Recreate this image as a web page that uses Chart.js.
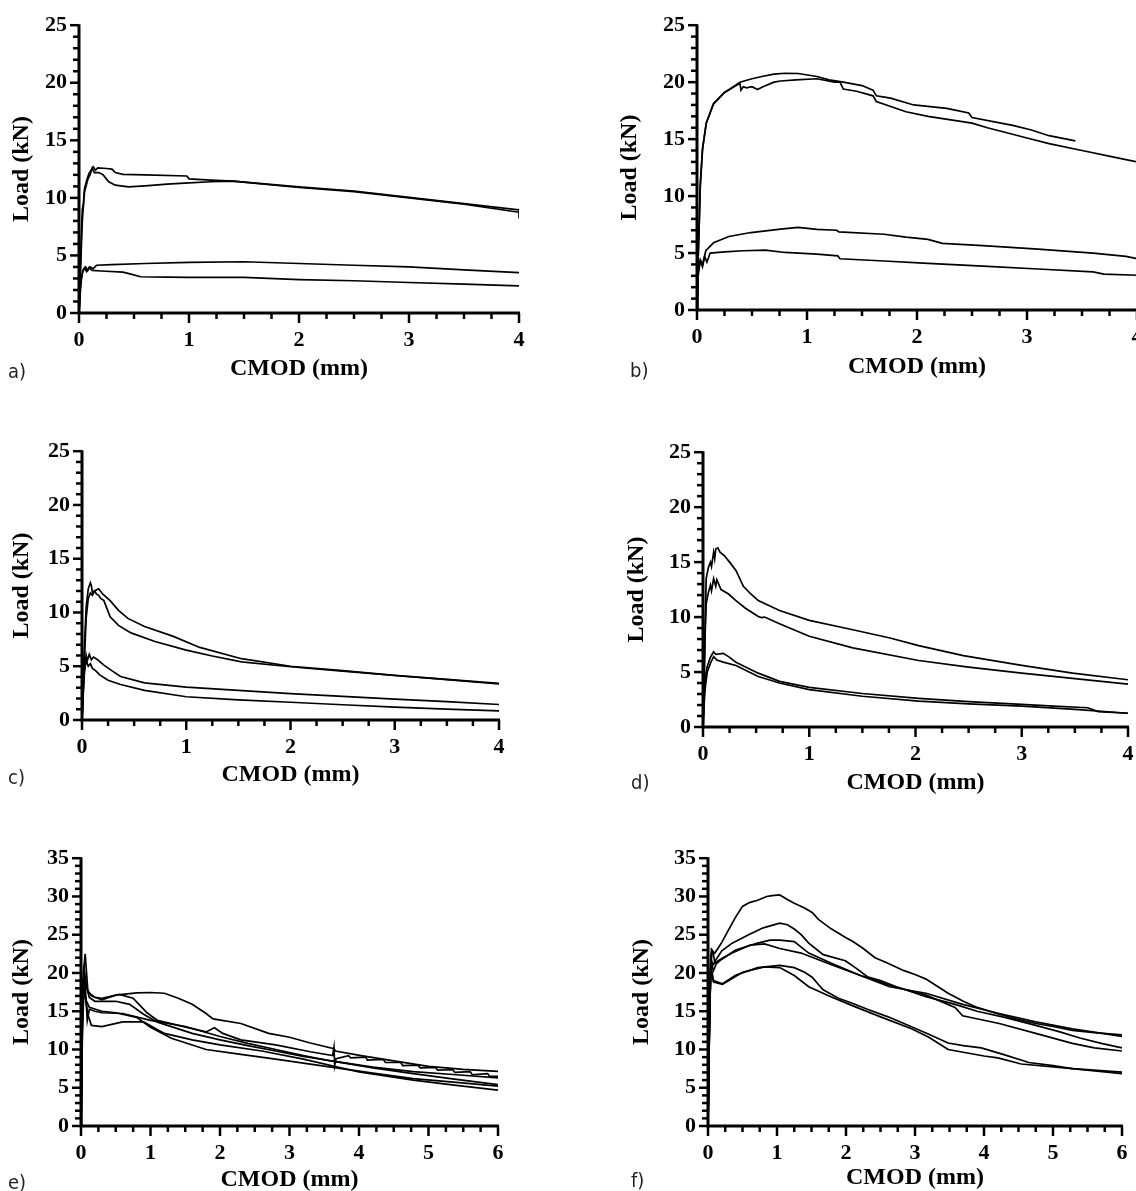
<!DOCTYPE html>
<html>
<head>
<meta charset="utf-8">
<title>Load vs CMOD</title>
<script src="https://cdn.jsdelivr.net/npm/chart.js@4.4.1/dist/chart.umd.min.js"></script>
<style>
  html, body { margin: 0; padding: 0; background: #fff; }
  body { position: relative; width: 1136px; height: 1191px; overflow: hidden; }
  canvas { position: absolute; }
  .tag { position: absolute; font-family: "Liberation Sans Narrow", "DejaVu Sans Condensed", sans-serif; font-size: 20px; color: #231f20; line-height: 22px; }
</style>
</head>
<body>
<script>
// ---- data: [CMOD (mm), Load (kN)] ----
const xTicks4 = [0, 1, 2, 3, 4];
const xTicks6 = [0, 1, 2, 3, 4, 5, 6];
const yTicks25 = [0, 5, 10, 15, 20, 25];
const yTicks35 = [0, 5, 10, 15, 20, 25, 30, 35];

const curveA1 = [[0,0],[0.01,3],[0.02,6.5],[0.03,9.0],[0.04,9.5],[0.05,10.8],[0.07,11.5],[0.09,12.1],[0.11,12.4],[0.13,12.7],[0.15,12.4],[0.17,12.6],[0.25,12.55],[0.3,12.5],[0.33,12.2],[0.4,12.05],[0.6,12.0],[0.98,11.9],[1.0,11.65],[1.2,11.55],[1.4,11.45],[2.0,10.95],[2.5,10.6],[3.0,10.05],[3.5,9.5],[4.0,8.95],[4.0,8.2]];
const curveA2 = [[0,0],[0.015,4],[0.03,8],[0.05,10.5],[0.08,11.6],[0.1,12.0],[0.12,12.6],[0.14,12.2],[0.18,12.2],[0.22,12.0],[0.27,11.4],[0.33,11.1],[0.45,10.95],[0.6,11.05],[0.8,11.2],[1.0,11.3],[1.2,11.4],[1.4,11.45],[2.0,10.9],[2.5,10.55],[3.0,10.0],[3.5,9.45],[4.0,8.75]];
const curveA3 = [[0,0],[0.01,1.5],[0.02,3.0],[0.04,3.8],[0.06,4.0],[0.08,3.7],[0.1,4.0],[0.13,3.85],[0.16,4.15],[0.3,4.2],[0.6,4.3],[1.0,4.4],[1.5,4.45],[2.0,4.3],[2.5,4.15],[3.0,4.0],[3.5,3.75],[4.0,3.5]];
const curveA4 = [[0,0],[0.01,2],[0.03,3.5],[0.05,3.9],[0.07,3.6],[0.09,3.95],[0.12,3.7],[0.2,3.65],[0.4,3.55],[0.48,3.35],[0.56,3.15],[0.8,3.12],[1.0,3.1],[1.5,3.1],[2.0,2.9],[2.5,2.8],[3.0,2.65],[3.5,2.5],[4.0,2.35]];

const curveB1 = [[0,0],[0.005,3],[0.017,6.5],[0.03,11],[0.05,14.1],[0.084,16.4],[0.15,18.1],[0.25,19.1],[0.3,19.4],[0.39,20.0],[0.5,20.3],[0.59,20.5],[0.7,20.7],[0.8,20.78],[0.92,20.76],[1.09,20.5],[1.2,20.2],[1.33,20.0],[1.5,19.7],[1.6,19.3],[1.63,18.8],[1.76,18.6],[1.97,18.0],[2.27,17.7],[2.47,17.3],[2.5,16.9],[2.87,16.2],[3.04,15.8],[3.2,15.3],[3.44,14.85]];
const curveB2 = [[0,0],[0.005,3],[0.017,6.5],[0.03,11],[0.05,14.1],[0.084,16.4],[0.15,18.1],[0.25,19.1],[0.39,19.9],[0.4,19.3],[0.42,19.6],[0.45,19.5],[0.5,19.6],[0.55,19.35],[0.6,19.6],[0.7,20.0],[0.76,20.1],[0.9,20.2],[1.09,20.3],[1.25,20.0],[1.3,20.0],[1.33,19.4],[1.45,19.2],[1.6,18.8],[1.63,18.3],[1.9,17.4],[2.1,17.0],[2.5,16.4],[2.64,16.0],[3.0,15.1],[3.2,14.6],[3.5,14.0],[3.8,13.4],[4.0,13.0]];
const curveB3 = [[0,0],[0.01,3.5],[0.03,4.4],[0.05,4.0],[0.08,5.2],[0.15,5.9],[0.29,6.45],[0.49,6.8],[0.76,7.1],[0.92,7.25],[1.09,7.08],[1.27,7.0],[1.29,6.85],[1.7,6.65],[1.9,6.4],[2.1,6.2],[2.23,5.85],[2.6,5.65],[3.1,5.35],[3.6,5.0],[3.9,4.7],[4.0,4.5]];
const curveB4 = [[0,0],[0.01,3.0],[0.03,4.3],[0.05,3.8],[0.07,4.7],[0.09,4.2],[0.12,5.0],[0.25,5.1],[0.42,5.2],[0.62,5.26],[0.8,5.05],[1.09,4.9],[1.28,4.75],[1.3,4.5],[1.7,4.3],[2.1,4.1],[2.6,3.85],[3.1,3.6],[3.6,3.35],[3.7,3.15],[4.0,3.05]];

const curveC1 = [[0,0],[0.02,6],[0.04,10.5],[0.06,12.2],[0.08,12.76],[0.09,12.5],[0.1,11.8],[0.12,12.0],[0.14,11.7],[0.16,11.6],[0.18,11.3],[0.21,11.1],[0.27,9.6],[0.35,8.8],[0.47,8.1],[0.7,7.3],[1.0,6.5],[1.25,5.95],[1.53,5.4],[2.0,4.95],[2.5,4.55],[3.0,4.14],[3.5,3.75],[4.0,3.35]];
const curveC2 = [[0,0],[0.02,5],[0.04,9.5],[0.06,11.3],[0.08,11.8],[0.1,11.6],[0.12,12.0],[0.16,12.2],[0.2,11.7],[0.27,11.1],[0.35,10.2],[0.44,9.45],[0.6,8.7],[0.87,7.8],[1.13,6.75],[1.53,5.7],[2.0,5.0],[2.5,4.6],[3.0,4.15],[3.5,3.78],[4.0,3.4]];
const curveC3 = [[0,0],[0.02,4],[0.04,6.0],[0.05,5.5],[0.07,6.1],[0.09,5.6],[0.11,5.85],[0.15,5.6],[0.21,5.1],[0.3,4.5],[0.37,4.05],[0.6,3.45],[1.0,3.06],[1.5,2.75],[2.0,2.46],[2.5,2.2],[3.0,1.95],[3.5,1.7],[4.0,1.44]];
const curveC4 = [[0,0],[0.02,4.5],[0.04,5.5],[0.06,5.0],[0.08,5.25],[0.1,4.8],[0.13,4.6],[0.17,4.2],[0.25,3.7],[0.37,3.3],[0.6,2.76],[1.0,2.16],[1.5,1.88],[2.0,1.65],[2.5,1.42],[3.0,1.2],[3.5,1.02],[4.0,0.84]];

const curveD1 = [[0,0],[0.01,4],[0.02,9],[0.03,13.5],[0.05,14.5],[0.07,15.0],[0.08,14.6],[0.1,15.9],[0.11,15.3],[0.12,16.2],[0.14,16.3],[0.16,15.9],[0.2,15.6],[0.25,15.0],[0.31,14.25],[0.38,12.8],[0.45,12.1],[0.52,11.5],[0.72,10.6],[1.0,9.7],[1.41,8.85],[1.76,8.1],[2.03,7.4],[2.45,6.5],[3.0,5.6],[3.48,4.9],[4.0,4.3]];
const curveD2 = [[0,0],[0.01,4],[0.02,8.5],[0.03,11.2],[0.05,12.2],[0.07,12.9],[0.08,12.4],[0.1,13.5],[0.12,12.8],[0.13,13.4],[0.17,12.5],[0.24,12.1],[0.31,11.5],[0.4,10.8],[0.52,10.05],[0.55,9.95],[0.58,10.0],[0.72,9.4],[1.0,8.25],[1.41,7.2],[2.03,6.05],[2.5,5.45],[3.0,4.9],[3.5,4.4],[4.0,3.9]];
const curveD3 = [[0,0],[0.01,2.5],[0.02,4.45],[0.04,5.5],[0.07,6.35],[0.1,6.85],[0.12,6.6],[0.19,6.7],[0.24,6.4],[0.31,5.9],[0.52,4.9],[0.72,4.15],[1.0,3.6],[1.5,3.05],[2.03,2.6],[2.5,2.3],[3.0,2.05],[3.3,1.9],[3.62,1.75],[3.72,1.4],[4.0,1.25]];
const curveD4 = [[0,0],[0.01,2],[0.02,3.5],[0.04,5.0],[0.07,5.8],[0.1,6.4],[0.13,6.1],[0.19,5.9],[0.31,5.6],[0.52,4.6],[0.72,4.0],[1.0,3.4],[1.5,2.8],[2.03,2.35],[2.5,2.1],[3.0,1.9],[3.5,1.6],[4.0,1.25]];

const curveE1 = [[0,0],[0.01,8],[0.02,17],[0.03,19.0],[0.05,20.0],[0.08,18.0],[0.15,17.0],[0.3,16.5],[0.5,17.1],[0.8,17.4],[1.0,17.45],[1.2,17.35],[1.4,16.7],[1.6,15.9],[1.8,14.7],[1.9,14.0],[2.3,13.4],[2.7,12.1],[3.0,11.6],[3.3,10.85],[3.64,10.1],[3.66,9.8],[4.03,9.2],[4.5,8.5],[5.0,7.8],[5.5,7.4],[6.0,7.15]];
const curveE2 = [[0,0],[0.02,15],[0.04,20.5],[0.06,22.5],[0.08,20.0],[0.1,17.5],[0.2,16.8],[0.3,16.7],[0.55,17.2],[0.75,16.7],[0.95,14.8],[1.1,13.8],[1.4,13.15],[1.8,12.3],[1.92,12.85],[2.04,12.1],[2.3,11.26],[2.8,10.6],[3.3,9.7],[3.62,9.2],[3.64,10.3],[3.65,7.9],[3.67,8.8],[3.85,9.2],[3.88,8.9],[4.1,9.0],[4.12,8.6],[4.35,8.7],[4.38,8.3],[4.6,8.3],[4.63,7.9],[4.85,7.95],[4.88,7.6],[5.1,7.65],[5.13,7.3],[5.35,7.35],[5.38,7.0],[5.6,7.1],[5.63,6.7],[5.85,6.85],[5.88,6.5],[6.0,6.5]];
const curveE3 = [[0,0],[0.02,12],[0.04,17.6],[0.06,18.5],[0.09,13.8],[0.12,15.25],[0.2,15.0],[0.3,14.8],[0.6,14.7],[1.0,13.8],[1.5,13.0],[2.0,11.7],[2.4,10.8],[2.8,10.0],[3.2,9.2],[3.6,8.5],[4.2,7.6],[4.78,6.85],[5.4,6.1],[6.0,5.4]];
const curveE4 = [[0,0],[0.02,14],[0.04,19.5],[0.06,17.0],[0.1,14.5],[0.15,13.15],[0.3,13.0],[0.6,13.6],[0.9,13.6],[1.2,12.1],[1.6,11.26],[2.0,10.6],[2.6,9.8],[3.2,8.74],[4.0,7.06],[4.78,6.0],[5.4,5.3],[6.0,4.7]];
const curveE5 = [[0,0],[0.02,16],[0.04,21.0],[0.07,18.5],[0.12,16.8],[0.2,16.3],[0.5,16.3],[0.7,15.9],[0.9,14.6],[1.1,13.57],[1.6,12.1],[2.0,11.26],[2.4,10.5],[2.8,9.8],[3.2,9.1],[3.6,8.5],[4.2,7.7],[4.78,7.1],[5.4,6.7],[6.0,6.3]];
const curveE6 = [[0,0],[0.02,13],[0.04,18.0],[0.07,16.5],[0.12,15.5],[0.3,15.0],[0.5,14.8],[0.8,14.2],[1.0,12.9],[1.3,11.47],[1.8,10.0],[2.3,9.37],[2.8,8.74],[3.6,7.7],[4.2,6.9],[4.78,6.2],[5.4,5.7],[6.0,5.2]];

const curveF1 = [[0,0],[0.02,12],[0.04,21],[0.06,22.8],[0.1,22.6],[0.2,24.0],[0.29,25.5],[0.4,27.3],[0.5,28.7],[0.6,29.2],[0.72,29.5],[0.85,30.0],[0.93,30.1],[1.04,30.2],[1.15,29.6],[1.25,29.1],[1.4,28.5],[1.51,27.9],[1.6,27.0],[1.78,25.8],[2.0,24.6],[2.1,24.1],[2.25,23.2],[2.42,22.0],[2.6,21.3],[2.84,20.3],[3.0,19.8],[3.16,19.2],[3.3,18.4],[3.48,17.35],[3.7,16.3],[3.9,15.5],[4.22,14.6],[4.5,13.9],[4.75,13.4],[5.0,13.0],[5.28,12.5],[5.6,12.2],[6.0,11.9]];
const curveF2 = [[0,0],[0.02,13],[0.04,22.0],[0.07,21.0],[0.12,21.8],[0.2,22.9],[0.35,23.9],[0.61,25.1],[0.8,25.9],[1.04,26.5],[1.15,26.3],[1.25,25.75],[1.35,25.0],[1.46,23.9],[1.67,22.4],[1.99,21.6],[2.15,20.6],[2.31,19.5],[2.5,19.0],[2.73,18.2],[3.16,16.9],[3.58,15.9],[3.9,15.0],[4.3,14.2],[4.75,13.15],[5.1,12.3],[5.39,11.5],[5.7,10.8],[6.0,10.2]];
const curveF3 = [[0,0],[0.02,12],[0.04,21.5],[0.08,20.3],[0.12,21.2],[0.2,21.8],[0.4,23.0],[0.72,23.9],[0.9,24.3],[1.04,24.3],[1.25,24.1],[1.46,22.6],[1.78,21.3],[2.2,19.7],[2.63,18.4],[3.16,17.1],[3.58,15.5],[3.69,14.4],[4.22,13.4],[4.75,12.1],[5.28,10.8],[5.6,10.2],[6.0,9.8]];
const curveF4 = [[0,0],[0.02,14],[0.05,23.1],[0.07,22.9],[0.1,21.3],[0.2,21.9],[0.35,22.6],[0.61,23.65],[0.82,23.8],[1.04,23.2],[1.35,22.6],[1.78,21.1],[2.2,19.7],[2.63,18.2],[3.16,17.35],[3.69,15.9],[4.22,14.7],[4.75,13.6],[5.28,12.7],[6.0,11.7]];
const curveF5 = [[0,0],[0.02,13],[0.04,21.5],[0.06,20],[0.08,19.0],[0.21,18.6],[0.4,19.7],[0.72,20.7],[1.04,21.0],[1.25,20.7],[1.4,20.1],[1.51,19.45],[1.6,18.5],[1.67,17.8],[1.89,16.7],[2.1,16.0],[2.31,15.25],[2.6,14.3],[2.84,13.4],[3.2,12.0],[3.48,10.85],[3.7,10.5],[3.96,10.2],[4.3,9.3],[4.65,8.3],[5.0,7.9],[5.28,7.5],[6.0,7.05]];
const curveF6 = [[0,0],[0.02,12.5],[0.04,20.5],[0.06,19.5],[0.08,18.8],[0.21,18.5],[0.5,20.1],[0.82,20.8],[1.04,20.7],[1.25,19.66],[1.46,18.2],[1.78,16.9],[2.1,15.7],[2.52,14.2],[2.95,12.7],[3.2,11.6],[3.48,10.0],[4.0,9.15],[4.2,8.9],[4.54,8.1],[5.28,7.5],[6.0,6.85]];

// ---- layout of the six panels (page pixels of the plot box) ----
const panels = [
  { tag: 'a)', curves: [curveA1, curveA2, curveA3, curveA4], xTicks: xTicks4, yTicks: yTicks25,
    left: 79, right: 519, top: 16, bottom: 313, yTitleX: 22, xTitleY: 369, tagX: 8, tagY: 371 },
  { tag: 'b)', curves: [curveB1, curveB2, curveB3, curveB4], xTicks: xTicks4, yTicks: yTicks25,
    left: 697, right: 1137, top: 16, bottom: 310, yTitleX: 630, xTitleY: 367, tagX: 630, tagY: 370 },
  { tag: 'c)', curves: [curveC1, curveC2, curveC3, curveC4], xTicks: xTicks4, yTicks: yTicks25,
    left: 82, right: 499, top: 442, bottom: 720, yTitleX: 22, xTitleY: 775, tagX: 8, tagY: 777 },
  { tag: 'd)', curves: [curveD1, curveD2, curveD3, curveD4], xTicks: xTicks4, yTicks: yTicks25,
    left: 703, right: 1128, top: 443, bottom: 727, yTitleX: 637, xTitleY: 783, tagX: 631, tagY: 782 },
  { tag: 'e)', curves: [curveE1, curveE2, curveE3, curveE4, curveE5, curveE6], xTicks: xTicks6, yTicks: yTicks35,
    left: 81, right: 498, top: 849, bottom: 1126, yTitleX: 22, xTitleY: 1180, tagX: 8, tagY: 1182 },
  { tag: 'f)', curves: [curveF1, curveF2, curveF3, curveF4, curveF5, curveF6], xTicks: xTicks6, yTicks: yTicks35,
    left: 708, right: 1122, top: 849, bottom: 1126, yTitleX: 642, xTitleY: 1178, tagX: 631, tagY: 1180 }
];

Chart.defaults.color = '#000';
Chart.defaults.font.family = '"Liberation Serif", "Times New Roman", serif';

// axis lines plus major/minor ticks, placed through the chart's scales
const axisTicks = {
  id: 'axisTicks',
  afterDatasetsDraw(chart) {
    const { ctx, chartArea: area, scales: { x, y } } = chart;
    ctx.save();
    ctx.strokeStyle = '#000';
    ctx.lineWidth = 2.5;
    const nx = Math.round((x.max - x.min) / 0.25);
    for (let i = 0; i <= nx; i++) {
      const px = x.getPixelForValue(x.min + i * 0.25);
      ctx.beginPath();
      ctx.moveTo(px, area.bottom);
      ctx.lineTo(px, area.bottom + (i % 4 === 0 ? 10 : 6));
      ctx.stroke();
    }
    for (let v = y.min; v <= y.max; v++) {
      const py = y.getPixelForValue(v);
      ctx.beginPath();
      ctx.moveTo(area.left, py);
      ctx.lineTo(area.left - (v % 5 === 0 ? 9 : 6), py);
      ctx.stroke();
    }
    ctx.lineWidth = 3;
    ctx.beginPath();
    ctx.moveTo(area.left, area.top - 1);
    ctx.lineTo(area.left, area.bottom);
    ctx.lineTo(area.right + 1, area.bottom);
    ctx.stroke();
    ctx.restore();
  }
};

panels.forEach(p => {
  const yBox = 100, padTop = 16, padRight = 20;
  const plotW = p.right - p.left, plotH = p.bottom - p.top;
  const xBox = p.xTitleY + 20 - p.bottom;
  const canvas = document.createElement('canvas');
  canvas.width = yBox + plotW + padRight;
  canvas.height = padTop + plotH + xBox;
  canvas.style.width = canvas.width + 'px';
  canvas.style.height = canvas.height + 'px';
  canvas.style.left = (p.left - yBox) + 'px';
  canvas.style.top = (p.top - padTop) + 'px';
  document.body.appendChild(canvas);

  const tag = document.createElement('div');
  tag.className = 'tag';
  tag.textContent = p.tag;
  tag.style.left = p.tagX + 'px';
  tag.style.top = (p.tagY - 11) + 'px';
  document.body.appendChild(tag);

  const tickFont = { size: 22, weight: 'bold' };
  const titleFont = { size: 24, weight: 'bold' };

  new Chart(canvas, {
    type: 'line',
    data: {
      datasets: p.curves.map(c => ({
        data: c.map(([cmod, load]) => ({ x: cmod, y: load })),
        borderColor: '#000',
        borderWidth: 1.7,
        pointRadius: 0,
        tension: 0,
        fill: false
      }))
    },
    options: {
      responsive: false,
      animation: false,
      events: [],
      layout: { padding: { top: padTop, right: padRight, left: 0, bottom: 0 } },
      plugins: { legend: { display: false }, tooltip: { enabled: false } },
      scales: {
        x: {
          type: 'linear',
          min: p.xTicks[0],
          max: p.xTicks[p.xTicks.length - 1],
          afterBuildTicks: s => { s.ticks = p.xTicks.map(v => ({ value: v })); },
          afterFit: s => { s.height = xBox; },
          grid: { display: false, drawTicks: false },
          border: { display: false },
          ticks: { font: tickFont, padding: 14, maxRotation: 0, autoSkip: false },
          title: { display: true, text: 'CMOD (mm)', font: titleFont, padding: { top: 0, bottom: 20 - 14.4 } }
        },
        y: {
          type: 'linear',
          min: p.yTicks[0],
          max: p.yTicks[p.yTicks.length - 1],
          afterBuildTicks: s => { s.ticks = p.yTicks.map(v => ({ value: v })); },
          afterFit: s => { s.width = yBox; },
          grid: { display: false, drawTicks: false },
          border: { display: false },
          ticks: { font: tickFont, padding: 12, autoSkip: false },
          title: { display: true, text: 'Load (kN)', font: titleFont,
                   padding: { top: p.yTitleX - (p.left - yBox) - 14.4, bottom: 0 } }
        }
      }
    },
    plugins: [axisTicks]
  });
});
</script>
</body>
</html>
